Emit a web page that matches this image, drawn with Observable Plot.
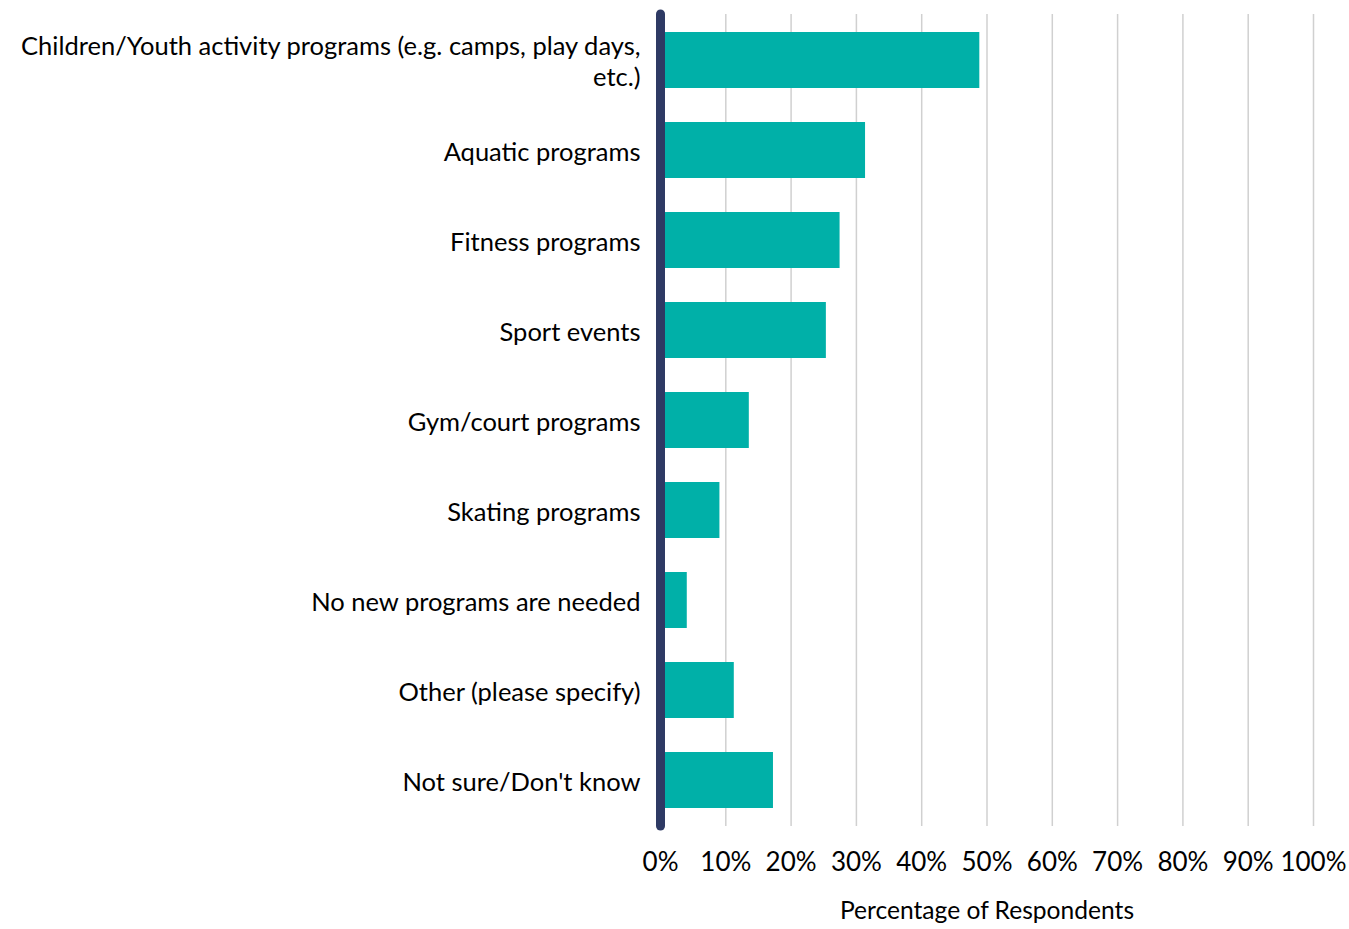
<!DOCTYPE html>
<html>
<head>
<meta charset="utf-8">
<script src="https://cdn.jsdelivr.net/npm/d3@7"></script>
<script src="https://cdn.jsdelivr.net/npm/@observablehq/plot@0.6"></script>
<style>
  html, body { margin: 0; padding: 0; background: #fff; }
  #chart { width: 1349px; height: 929px; }
</style>
</head>
<body>
<div id="chart"></div>
<script>
const categories = [
  "Children/Youth activity programs (e.g. camps, play days, etc.)",
  "Aquatic programs",
  "Fitness programs",
  "Sport events",
  "Gym/court programs",
  "Skating programs",
  "No new programs are needed",
  "Other (please specify)",
  "Not sure/Don't know"
];
const displayLabels = [
  "Children/Youth activity programs (e.g. camps, play days,\netc.)",
  "Aquatic programs",
  "Fitness programs",
  "Sport events",
  "Gym/court programs",
  "Skating programs",
  "No new programs are needed",
  "Other (please specify)",
  "Not sure/Don't know"
];
const values = [48.9, 31.4, 27.5, 25.4, 13.6, 9.1, 4.1, 11.3, 17.3];
const xTicks = [0, 10, 20, 30, 40, 50, 60, 70, 80, 90, 100];
const xTitle = "Percentage of Respondents";

const data = categories.map((c, i) => ({category: c, value: values[i]}));
const labelOf = new Map(categories.map((c, i) => [c, displayLabels[i]]));

const chart = Plot.plot({
  width: 1349,
  height: 929,
  marginLeft: 660,
  marginRight: 36,
  marginTop: 14,
  marginBottom: 103,
  style: {fontFamily: "Lato, 'Open Sans', sans-serif", fontSize: "25px", color: "#000", background: "#fff"},
  x: {domain: [0, 100], ticks: xTicks},
  y: {domain: categories, paddingInner: 0.38, paddingOuter: 0.18},
  marks: [
    Plot.gridX(xTicks, {stroke: "#d0d0d0", strokeOpacity: 1, strokeWidth: 1.5}),
    Plot.barX(data, {x: "value", y: "category", fill: "#00B0A8"}),
    Plot.ruleX([0], {stroke: "#2E3A64", strokeWidth: 9, strokeLinecap: "round"}),
    Plot.axisY({
      tickSize: 0,
      tickPadding: 20,
      tickFormat: d => labelOf.get(d),
      lineHeight: 1.24,
      fontSize: 25.5,
      fill: "#000",
      label: null
    }),
    Plot.axisX(xTicks, {
      tickSize: 0,
      tickPadding: 26,
      tickFormat: d => d + "%",
      fontSize: 26,
      fill: "#000",
      label: null
    }),
    Plot.text([xTitle], {
      text: d => d,
      frameAnchor: "bottom",
      lineAnchor: "middle",
      dy: 85,
      fontSize: 24.6,
      fill: "#000"
    })
  ]
});
document.getElementById("chart").appendChild(chart);
</script>
</body>
</html>
